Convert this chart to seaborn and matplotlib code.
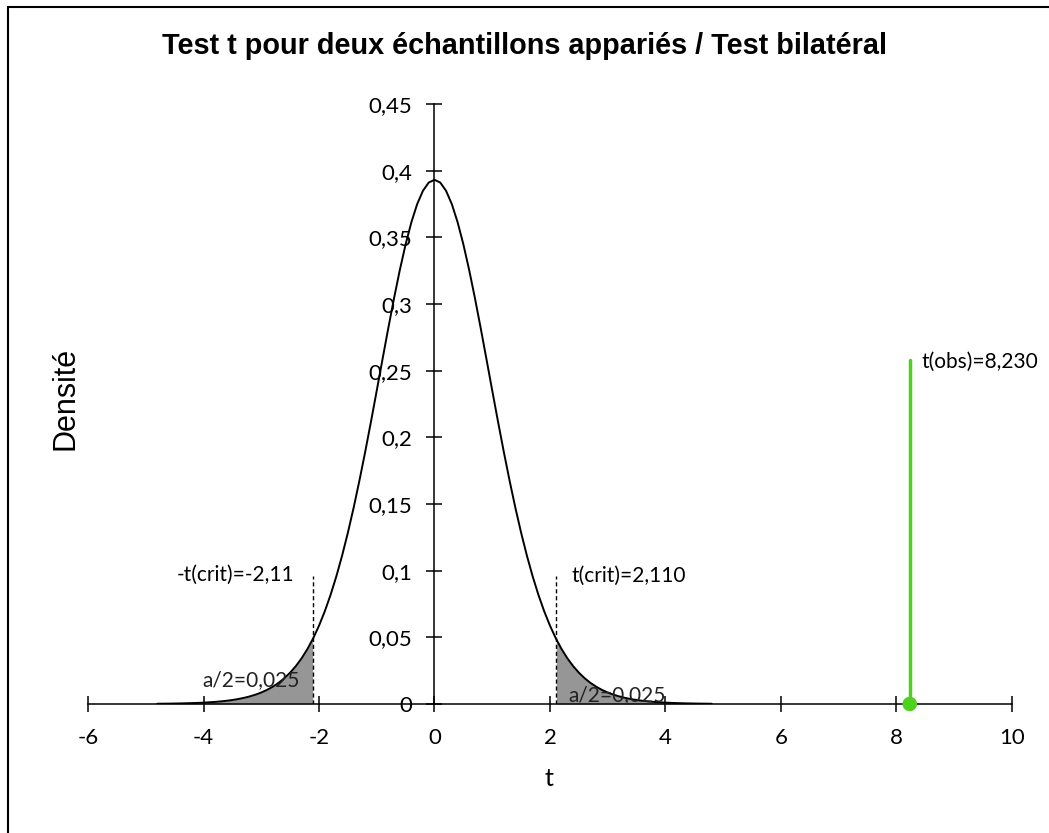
import numpy as np
import pandas as pd
import seaborn as sns
import matplotlib
matplotlib.use("Agg")
import matplotlib.pyplot as plt
from matplotlib.lines import Line2D
from matplotlib.ticker import FuncFormatter

# t grid and Student density (df = 17)
t_values = [
    -4.8, -4.7, -4.6, -4.5, -4.4, -4.3, -4.2, -4.1, -4.0, -3.9, -3.8, -3.7, -3.6,
    -3.5, -3.4, -3.3, -3.2, -3.1, -3.0, -2.9, -2.8, -2.7, -2.6, -2.5, -2.4, -2.3,
    -2.2, -2.1, -2.0, -1.9, -1.8, -1.7, -1.6, -1.5, -1.4, -1.3, -1.2, -1.1, -1.0,
    -0.9, -0.8, -0.7, -0.6, -0.5, -0.4, -0.3, -0.2, -0.1, 0.0,
    0.1, 0.2, 0.3, 0.4, 0.5, 0.6, 0.7, 0.8, 0.9, 1.0, 1.1, 1.2, 1.3, 1.4, 1.5,
    1.6, 1.7, 1.8, 1.9, 2.0, 2.1, 2.2, 2.3, 2.4, 2.5, 2.6, 2.7, 2.8, 2.9, 3.0,
    3.1, 3.2, 3.3, 3.4, 3.5, 3.6, 3.7, 3.8, 3.9, 4.0, 4.1, 4.2, 4.3, 4.4, 4.5,
    4.6, 4.7, 4.8,
]
density = [
    0.00018, 0.00022, 0.00027, 0.00034, 0.00042, 0.00052, 0.00065, 0.00081,
    0.00100, 0.00125, 0.00155, 0.00193, 0.00240, 0.00297, 0.00369, 0.00457,
    0.00565, 0.00697, 0.00859, 0.01056, 0.01295, 0.01584, 0.01932, 0.02348,
    0.02845, 0.03432, 0.04124, 0.04932, 0.05869, 0.06948, 0.08178, 0.09569,
    0.11124, 0.12844, 0.14724, 0.16753, 0.18911, 0.21173, 0.23503, 0.25858,
    0.28189, 0.30441, 0.32555, 0.34472, 0.36134, 0.37488, 0.38489, 0.39105,
    0.39312,
    0.39105, 0.38489, 0.37488, 0.36134, 0.34472, 0.32555, 0.30441, 0.28189,
    0.25858, 0.23503, 0.21173, 0.18911, 0.16753, 0.14724, 0.12844, 0.11124,
    0.09569, 0.08178, 0.06948, 0.05869, 0.04932, 0.04124, 0.03432, 0.02845,
    0.02348, 0.01932, 0.01584, 0.01295, 0.01056, 0.00859, 0.00697, 0.00565,
    0.00457, 0.00369, 0.00297, 0.00240, 0.00193, 0.00155, 0.00125, 0.00100,
    0.00081, 0.00065, 0.00052, 0.00042, 0.00034, 0.00027, 0.00022, 0.00018,
]
t_crit = 2.110
dens_crit = 0.0485
t_obs = 8.230
obs_height = 0.258
alpha_half = 0.025

x_ticks = [-6, -4, -2, 0, 2, 4, 6, 8, 10]
y_ticks = [0, 0.05, 0.1, 0.15, 0.2, 0.25, 0.3, 0.35, 0.4, 0.45]

df = pd.DataFrame({"t": t_values, "density": density})

sns.set_theme(style="white")
plt.rcParams["font.family"] = ["Lato", "DejaVu Sans"]
plt.rcParams["text.color"] = "black"
plt.rcParams["axes.labelcolor"] = "black"

fig = plt.figure(figsize=(10.49, 8.33), dpi=100)
ax = fig.add_axes([0.0839, 0.1549, 0.8808, 0.7203])

# shaded rejection tails
tv = np.array(t_values)
dv = np.array(density)
left = tv <= -2.1
right = tv >= 2.1
ax.fill_between(np.append(tv[left], -t_crit), np.append(dv[left], dens_crit),
                color="#969696", lw=0, zorder=1)
ax.fill_between(np.insert(tv[right], 0, t_crit), np.insert(dv[right], 0, dens_crit),
                color="#969696", lw=0, zorder=1)

sns.lineplot(data=df, x="t", y="density", color="black", lw=1.4, ax=ax, zorder=3)

# critical values
for xc in (-t_crit, t_crit):
    ax.plot([xc, xc], [0, 0.096], color="black", lw=1, ls=(0, (3, 2)), zorder=4)

# observed statistic
ax.plot([t_obs, t_obs], [0, obs_height], color="#4FD11F", lw=2.5, zorder=4)
sns.scatterplot(x=[t_obs], y=[0], color="#4FD11F", s=110, edgecolor="none",
                ax=ax, zorder=5, clip_on=False)

def comma(v, pos):
    return f"{v:g}".replace(".", ",")

lab_kw = dict(fontsize=15, color="black")
ax.text(-2.42, 0.097, "-t(crit)=" + comma(-t_crit, 0), ha="right", va="center", **lab_kw)
ax.text(2.38, 0.096, "t(crit)=" + f"{t_crit:.3f}".replace(".", ","), ha="left", va="center", **lab_kw)
ax.text(8.44, 0.2565, "t(obs)=" + f"{t_obs:.3f}".replace(".", ","), ha="left", va="center", **lab_kw)
a_txt = "a/2=" + f"{alpha_half:.3f}".replace(".", ",")
ax.text(-4.02, 0.018, a_txt, ha="left", va="center", fontsize=15, color="#222222", zorder=6)
ax.text(2.31, 0.0068, a_txt, ha="left", va="center", fontsize=15, color="#222222", zorder=6)

ax.set_xlim(-6, 10)
ax.set_ylim(0, 0.45)
ax.set_xticks(x_ticks)
ax.set_yticks(y_ticks)
ax.xaxis.set_major_formatter(FuncFormatter(comma))
ax.yaxis.set_major_formatter(FuncFormatter(comma))
ax.spines["left"].set_position(("data", 0))
ax.spines["bottom"].set_position(("data", 0))
ax.spines["top"].set_visible(False)
ax.spines["right"].set_visible(False)
for s in ("left", "bottom"):
    ax.spines[s].set_color("black")
    ax.spines[s].set_linewidth(1.1)
ax.tick_params(axis="both", direction="inout", length=12, width=1.1, color="black",
               labelsize=16, labelcolor="black")
ax.tick_params(axis="x", pad=11, bottom=True)
ax.tick_params(axis="y", pad=10, left=True)
ax.patch.set_alpha(0)

ax.set_xlabel("")
ax.set_ylabel("")
fig.text(549 / 1049, 1 - 778 / 833, "t", ha="center", va="center", fontsize=18)
fig.text(0.062, 0.522, "Densité", rotation=90, ha="center", va="center",
         fontsize=22, family=["Liberation Sans", "DejaVu Sans"])
fig.text(0.5, 0.945, "Test t pour deux échantillons appariés / Test bilatéral",
         ha="center", va="center", fontsize=20.8, fontweight="bold",
         family=["Liberation Sans", "DejaVu Sans"])

# outer chart border (left and top edges visible)
fig.add_artist(Line2D([8 / 1049, 8 / 1049], [0, 1 - 7 / 833], color="black", lw=1.5,
                      transform=fig.transFigure))
fig.add_artist(Line2D([8 / 1049, 1], [1 - 7 / 833, 1 - 7 / 833], color="black", lw=1.5,
                      transform=fig.transFigure))

fig.savefig("out.png", dpi=100, facecolor="white")
